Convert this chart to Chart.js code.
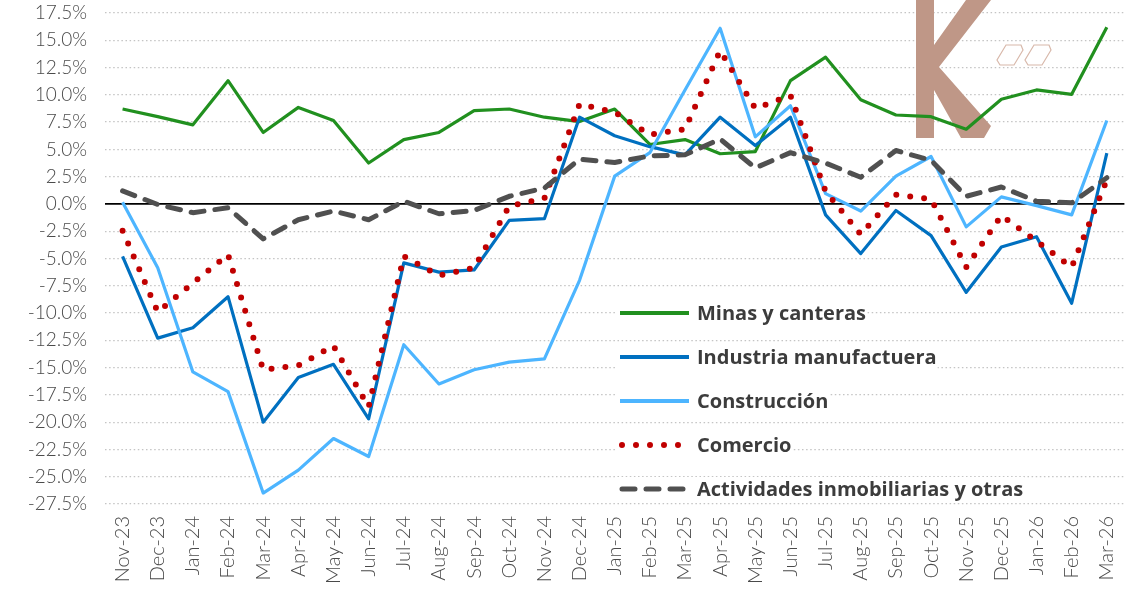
<!DOCTYPE html>
<html lang="es">
<head>
<meta charset="utf-8">
<title>Variación por sector</title>
<script src="https://cdn.jsdelivr.net/npm/chart.js@4.4.1/dist/chart.umd.min.js"></script>
<style>
  html, body { margin: 0; padding: 0; background: #fff; }
  #grafico { display: block; }
</style>
</head>
<body>
<canvas id="grafico" width="1143" height="597"></canvas>
<script>
// Meses (eje X)
const meses = ['Nov-23','Dec-23','Jan-24','Feb-24','Mar-24','Apr-24','May-24','Jun-24','Jul-24','Aug-24',
  'Sep-24','Oct-24','Nov-24','Dec-24','Jan-25','Feb-25','Mar-25','Apr-25','May-25','Jun-25',
  'Jul-25','Aug-25','Sep-25','Oct-25','Nov-25','Dec-25','Jan-26','Feb-26','Mar-26'];

// Series (% variación)
const minas = [8.7, 8.0, 7.25, 11.3, 6.55, 8.85, 7.65, 3.75, 5.9, 6.55, 8.55, 8.7, 7.95, 7.55, 8.7,
  5.45, 5.9, 4.6, 4.8, 11.3, 13.45, 9.55, 8.15, 8.0, 6.85, 9.6, 10.45, 10.05, 16.2];
const industria = [-4.8, -12.3, -11.35, -8.5, -20.0, -15.9, -14.7, -19.7, -5.4, -6.25, -6.05, -1.5, -1.35, 7.95, 6.25,
  5.25, 4.5, 7.95, 5.35, 7.95, -1.0, -4.55, -0.6, -2.9, -8.1, -3.95, -3.0, -9.1, 4.65];
const construccion = [0.15, -5.85, -15.4, -17.2, -26.5, -24.4, -21.5, -23.15, -12.9, -16.5, -15.2, -14.5, -14.2, -7.0, 2.55,
  4.7, 10.45, 16.1, 6.15, 9.0, 0.95, -0.65, 2.55, 4.35, -2.1, 0.65, -0.15, -1.0, 7.65];
const comercio = [-2.45, -9.9, -7.25, -4.65, -15.2, -14.8, -13.0, -18.6, -4.8, -6.55, -5.85, -0.2, 0.5, 9.15, 8.4,
  6.35, 6.85, 14.05, 8.75, 9.95, 1.15, -2.8, 0.85, 0.45, -5.8, -1.05, -3.4, -5.8, 2.2];
const actividades = [1.2, -0.05, -0.8, -0.35, -3.2, -1.45, -0.65, -1.45, 0.25, -0.9, -0.6, 0.7, 1.45, 4.1, 3.8,
  4.4, 4.5, 5.95, 3.3, 4.7, 3.75, 2.45, 4.9, 4.0, 0.7, 1.55, 0.25, 0.1, 2.4];

// Rango del eje Y
const yMin = -27.5;
const yMax = 17.5;
const yPaso = 2.5;

const FUENTE = 'Lato, "Open Sans", sans-serif';
const FUENTE_LEYENDA = '"Open Sans", Lato, sans-serif';

// Leyenda dentro del gráfico (abajo a la derecha)
const leyenda = {
  id: 'leyendaInterna',
  afterDatasetsDraw(chart) {
    const ctx = chart.ctx;
    const x0 = 620, y0 = 313, paso = 44;
    chart.data.datasets.forEach((ds, i) => {
      const y = y0 + i * paso;
      ctx.save();
      ctx.font = 'bold 20px ' + FUENTE_LEYENDA;
      const ancho = ctx.measureText(ds.label).width;
      ctx.fillStyle = '#fff';
      ctx.fillRect(x0 - 4, y - 12, 82 + ancho, 24);
      ctx.strokeStyle = ds.borderColor;
      ctx.lineWidth = ds.borderDash ? ds.borderWidth : 3.8;
      ctx.lineCap = ds.borderCapStyle || 'butt';
      ctx.setLineDash(ds.borderDash || []);
      ctx.beginPath();
      ctx.moveTo(x0 + (ds.borderDash ? 2 : 0), y);
      ctx.lineTo(x0 + 69, y);
      ctx.stroke();
      ctx.setLineDash([]);
      ctx.fillStyle = '#3c3c3c';
      ctx.textBaseline = 'middle';
      ctx.fillText(ds.label, x0 + 77, y + 1);
      ctx.restore();
    });
  }
};

// Línea del cero y marca de agua (logo "K")
const fondo = {
  id: 'fondo',
  beforeDatasetsDraw(chart) {
    const ctx = chart.ctx;
    const area = chart.chartArea;
    const y0 = chart.scales.y.getPixelForValue(0);
    ctx.save();
    ctx.strokeStyle = '#000';
    ctx.lineWidth = 1.8;
    ctx.beginPath();
    ctx.moveTo(area.left, y0);
    ctx.lineTo(area.right, y0);
    ctx.stroke();

    ctx.fillStyle = '#bf9787';
    ctx.beginPath();
    ctx.moveTo(916, 0);
    ctx.lineTo(934, 0);
    ctx.lineTo(934, 45);
    ctx.lineTo(966, 0);
    ctx.lineTo(991, 0);
    ctx.lineTo(939, 67);
    ctx.lineTo(991, 126);
    ctx.lineTo(984, 138);
    ctx.lineTo(961, 138);
    ctx.lineTo(934, 90);
    ctx.lineTo(934, 138);
    ctx.lineTo(916, 138);
    ctx.closePath();
    ctx.fill();
    ctx.strokeStyle = '#d8b8aa';
    ctx.lineWidth = 1.2;
    [997, 1025].forEach(x => {
      ctx.beginPath();
      ctx.moveTo(x + 9, 45);
      ctx.lineTo(x + 24, 45);
      ctx.lineTo(x + 26, 50);
      ctx.lineTo(x + 17, 65);
      ctx.lineTo(x + 3, 65);
      ctx.lineTo(x, 60);
      ctx.closePath();
      ctx.stroke();
    });
    ctx.restore();
  }
};

const ctx = document.getElementById('grafico').getContext('2d');
new Chart(ctx, {
  type: 'line',
  data: {
    labels: meses,
    datasets: [
      { label: 'Minas y canteras', data: minas, borderColor: '#21901f', borderWidth: 3.2, order: 5 },
      { label: 'Industria manufactuera', data: industria, borderColor: '#0070c0', borderWidth: 3.2, order: 4 },
      { label: 'Construcción', data: construccion, borderColor: '#4db5ff', borderWidth: 3.2, order: 3 },
      { label: 'Comercio', data: comercio, borderColor: '#c00000', borderWidth: 6,
        borderDash: [0, 14], borderCapStyle: 'round', order: 2 },
      { label: 'Actividades inmobiliarias y otras', data: actividades, borderColor: '#505050', borderWidth: 5,
        borderDash: [13, 11], borderCapStyle: 'round', order: 1 }
    ]
  },
  options: {
    responsive: false,
    animation: false,
    devicePixelRatio: 1,
    layout: { padding: { top: 13, right: 10, left: 0, bottom: 0 } },
    elements: {
      point: { radius: 0, hoverRadius: 0 },
      line: { tension: 0, fill: false, borderJoinStyle: 'round' }
    },
    plugins: {
      legend: { display: false },
      tooltip: { enabled: false }
    },
    scales: {
      x: {
        offset: true,
        grid: { display: false, drawTicks: false },
        border: { display: false },
        ticks: {
          autoSkip: false,
          maxRotation: 90,
          minRotation: 90,
          padding: 12,
          color: '#4a4a4a',
          font: { family: FUENTE, size: 20, weight: '300' }
        },
        afterFit(scale) { scale.height = 93; }
      },
      y: {
        min: yMin,
        max: yMax,
        border: { display: false, dash: [1.5, 2.6] },
        grid: {
          drawTicks: false,
          color: ctx => ctx.tick && ctx.tick.value === 0 ? 'rgba(0,0,0,0)' : '#c4c4c4',
          lineWidth: 1.3
        },
        ticks: {
          stepSize: yPaso,
          padding: 18,
          color: '#4a4a4a',
          font: { family: FUENTE, size: 19, weight: '300' },
          callback: v => v.toFixed(1) + '%'
        },
        afterFit(scale) {
          scale.width = 105;
          scale.paddingTop = 0;
          scale.paddingBottom = 0;
        }
      }
    }
  },
  plugins: [fondo, leyenda]
});
</script>
</body>
</html>
